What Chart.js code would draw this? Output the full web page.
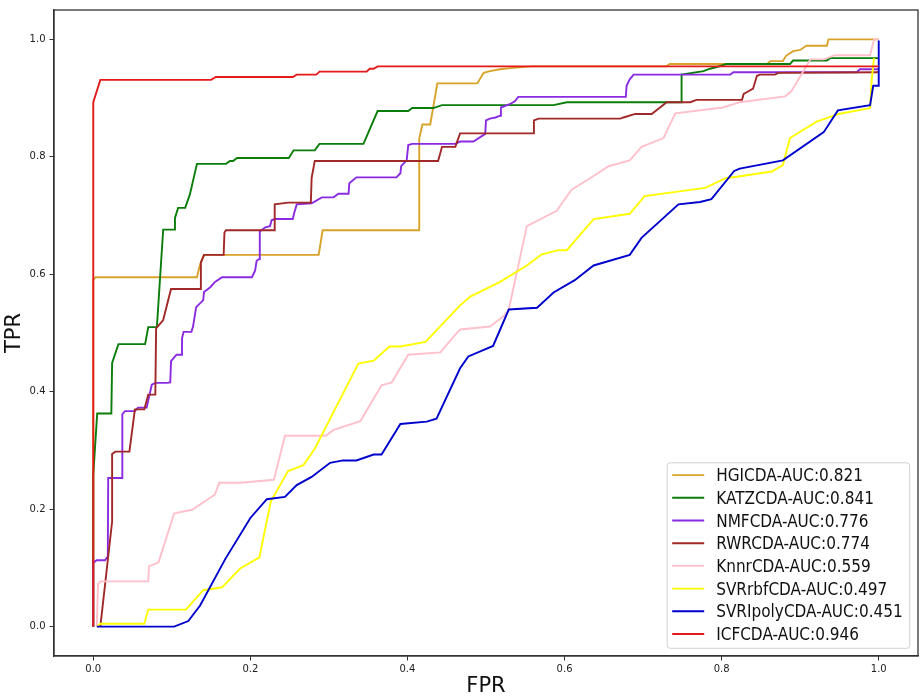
<!DOCTYPE html>
<html>
<head>
<meta charset="utf-8">
<script src="https://cdn.jsdelivr.net/npm/chart.js@4.4.1/dist/chart.umd.min.js"></script>
<style>
  html, body { margin: 0; padding: 0; background: #ffffff; }
  #wrap { width: 923px; height: 697px; }
</style>
</head>
<body>
<div id="wrap"><canvas id="c" width="923" height="697"></canvas></div>
<script>
// ---------- data ----------
const seriesLabels = [
  'HGICDA-AUC:0.821', 'KATZCDA-AUC:0.841', 'NMFCDA-AUC:0.776', 'RWRCDA-AUC:0.774',
  'KnnrCDA-AUC:0.559', 'SVRrbfCDA-AUC:0.497', 'SVRIpolyCDA-AUC:0.451', 'ICFCDA-AUC:0.946'
];
const seriesColors = ['#d8a32a', '#0a7d0a', '#8a2be2', '#a02828', '#ffc0cb', '#ffff00', '#0000cd', '#e41a1a'];

const fprHGI = [0, 0, 0.003, 0.132, 0.136, 0.141, 0.287, 0.292, 0.415, 0.415, 0.419, 0.429, 0.438, 0.489, 0.497, 0.505, 0.518, 0.531, 0.558, 0.730, 0.734, 0.858, 0.862, 0.878, 0.882, 0.891, 0.900, 0.908, 0.934, 0.936, 1.0];
const tprHGI = [0, 0.591, 0.595, 0.595, 0.617, 0.633, 0.633, 0.675, 0.675, 0.831, 0.855, 0.855, 0.925, 0.925, 0.943, 0.946, 0.949, 0.951, 0.954, 0.954, 0.958, 0.958, 0.963, 0.963, 0.972, 0.980, 0.982, 0.989, 0.989, 1.0, 1.0];

const fprKATZ = [0, 0, 0.005, 0.023, 0.024, 0.032, 0.066, 0.070, 0.081, 0.089, 0.103, 0.104, 0.108, 0.117, 0.123, 0.132, 0.169, 0.174, 0.178, 0.183, 0.249, 0.255, 0.282, 0.288, 0.344, 0.362, 0.401, 0.406, 0.433, 0.444, 0.586, 0.603, 0.749, 0.749, 0.777, 0.785, 0.794, 0.806, 0.887, 0.891, 0.934, 0.938, 0.994, 1.0];
const tprKATZ = [0, 0.258, 0.363, 0.363, 0.449, 0.481, 0.481, 0.510, 0.510, 0.676, 0.676, 0.696, 0.713, 0.713, 0.736, 0.788, 0.788, 0.793, 0.793, 0.798, 0.798, 0.811, 0.811, 0.822, 0.822, 0.878, 0.878, 0.883, 0.883, 0.888, 0.888, 0.893, 0.893, 0.940, 0.946, 0.950, 0.953, 0.958, 0.958, 0.964, 0.964, 0.968, 0.968, 0.968];

const fprNMF = [0, 0, 0.0045, 0.015, 0.0185, 0.019, 0.037, 0.037, 0.0405, 0.053, 0.057, 0.068, 0.0745, 0.079, 0.094, 0.098, 0.099, 0.106, 0.113, 0.113, 0.115, 0.125, 0.127, 0.131, 0.140, 0.141, 0.149, 0.155, 0.164, 0.202, 0.206, 0.208, 0.2115, 0.212, 0.219, 0.225, 0.227, 0.231, 0.254, 0.256, 0.259, 0.278, 0.291, 0.306, 0.312, 0.325, 0.326, 0.335, 0.386, 0.391, 0.392, 0.399, 0.401, 0.406, 0.461, 0.467, 0.484, 0.499, 0.500, 0.505, 0.512, 0.518, 0.519, 0.531, 0.537, 0.541, 0.678, 0.679, 0.683, 0.688, 0.811, 0.815, 0.972, 0.976, 1.0];
const tprNMF = [0, 0.109, 0.113, 0.113, 0.120, 0.253, 0.253, 0.362, 0.367, 0.367, 0.373, 0.373, 0.412, 0.415, 0.415, 0.416, 0.452, 0.463, 0.463, 0.491, 0.502, 0.502, 0.511, 0.544, 0.556, 0.570, 0.578, 0.587, 0.595, 0.595, 0.606, 0.623, 0.626, 0.673, 0.680, 0.682, 0.692, 0.694, 0.694, 0.705, 0.719, 0.721, 0.731, 0.731, 0.737, 0.737, 0.755, 0.765, 0.765, 0.772, 0.784, 0.794, 0.820, 0.822, 0.822, 0.826, 0.826, 0.839, 0.862, 0.865, 0.867, 0.870, 0.884, 0.890, 0.895, 0.902, 0.902, 0.921, 0.932, 0.940, 0.940, 0.944, 0.944, 0.949, 0.949];

const fprRWR = [0.009, 0.024, 0.024, 0.028, 0.046, 0.053, 0.065, 0.070, 0.079, 0.080, 0.089, 0.099, 0.136, 0.137, 0.141, 0.166, 0.167, 0.169, 0.231, 0.231, 0.248, 0.277, 0.278, 0.282, 0.439, 0.444, 0.461, 0.463, 0.467, 0.560, 0.561, 0.567, 0.671, 0.675, 0.690, 0.711, 0.730, 0.760, 0.768, 0.826, 0.828, 0.832, 0.840, 0.845, 0.849, 0.868, 0.872, 1.0];
const tprRWR = [0, 0.179, 0.294, 0.298, 0.298, 0.370, 0.370, 0.395, 0.395, 0.508, 0.522, 0.575, 0.575, 0.620, 0.633, 0.633, 0.671, 0.675, 0.675, 0.719, 0.722, 0.722, 0.764, 0.793, 0.793, 0.817, 0.817, 0.825, 0.840, 0.840, 0.862, 0.865, 0.865, 0.867, 0.873, 0.873, 0.893, 0.893, 0.897, 0.897, 0.907, 0.910, 0.916, 0.938, 0.940, 0.940, 0.943, 0.944];

const fprKNN = [0.0045, 0.006, 0.009, 0.070, 0.071, 0.083, 0.103, 0.126, 0.155, 0.159, 0.160, 0.187, 0.230, 0.244, 0.296, 0.306, 0.340, 0.367, 0.380, 0.401, 0.442, 0.452, 0.467, 0.505, 0.522, 0.529, 0.552, 0.590, 0.609, 0.633, 0.656, 0.683, 0.698, 0.726, 0.741, 0.802, 0.823, 0.881, 0.889, 0.913, 0.930, 0.944, 0.989, 0.994, 1.0];
const tprKNN = [0, 0.072, 0.077, 0.077, 0.103, 0.109, 0.193, 0.199, 0.225, 0.241, 0.245, 0.245, 0.250, 0.325, 0.325, 0.335, 0.350, 0.411, 0.416, 0.463, 0.467, 0.483, 0.506, 0.511, 0.528, 0.540, 0.682, 0.708, 0.744, 0.764, 0.784, 0.794, 0.817, 0.832, 0.874, 0.884, 0.893, 0.903, 0.912, 0.966, 0.966, 0.973, 0.973, 1.0, 1.0];

const fprRBF = [0.005, 0.009, 0.065, 0.070, 0.118, 0.140, 0.164, 0.187, 0.2115, 0.226, 0.248, 0.2675, 0.282, 0.3375, 0.357, 0.377, 0.391, 0.423, 0.467, 0.480, 0.518, 0.552, 0.571, 0.592, 0.603, 0.637, 0.683, 0.702, 0.779, 0.806, 0.819, 0.864, 0.878, 0.887, 0.921, 0.949, 0.989, 0.991, 0.994];
const tprRBF = [0, 0.005, 0.005, 0.029, 0.029, 0.062, 0.067, 0.099, 0.118, 0.213, 0.265, 0.275, 0.303, 0.448, 0.453, 0.477, 0.477, 0.485, 0.547, 0.562, 0.587, 0.615, 0.634, 0.641, 0.641, 0.694, 0.703, 0.733, 0.747, 0.764, 0.766, 0.775, 0.786, 0.832, 0.860, 0.873, 0.883, 0.931, 0.968];

const fprPOLY = [0.0045, 0.103, 0.121, 0.136, 0.168, 0.200, 0.221, 0.244, 0.259, 0.278, 0.3015, 0.318, 0.335, 0.357, 0.367, 0.391, 0.4245, 0.437, 0.467, 0.4775, 0.509, 0.529, 0.565, 0.586, 0.613, 0.637, 0.683, 0.698, 0.745, 0.7725, 0.787, 0.816, 0.823, 0.878, 0.930, 0.948, 0.989, 0.993, 1.0, 1.0];
const tprPOLY = [0, 0, 0.0095, 0.036, 0.115, 0.185, 0.217, 0.221, 0.241, 0.255, 0.279, 0.283, 0.283, 0.293, 0.293, 0.345, 0.349, 0.354, 0.440, 0.460, 0.478, 0.540, 0.543, 0.569, 0.590, 0.615, 0.633, 0.662, 0.719, 0.723, 0.728, 0.776, 0.780, 0.794, 0.842, 0.879, 0.888, 0.921, 0.921, 0.998];

const fprICF = [0, 0, 0.009, 0.150, 0.156, 0.254, 0.259, 0.284, 0.288, 0.348, 0.352, 0.357, 0.362, 1.0];
const tprICF = [0, 0.893, 0.931, 0.931, 0.936, 0.936, 0.940, 0.940, 0.945, 0.945, 0.950, 0.950, 0.954, 0.954];

const tickValues = [0.0, 0.2, 0.4, 0.6, 0.8, 1.0];
const tickLabels = ['0.0', '0.2', '0.4', '0.6', '0.8', '1.0'];
const xTitle = 'FPR';
const yTitle = 'TPR';

// ---------- build ----------
const fprs = [fprHGI, fprKATZ, fprNMF, fprRWR, fprKNN, fprRBF, fprPOLY, fprICF];
const tprs = [tprHGI, tprKATZ, tprNMF, tprRWR, tprKNN, tprRBF, tprPOLY, tprICF];
const toPoints = (xs, ys) => xs.map((x, i) => ({ x: x, y: ys[i] }));

const datasets = seriesLabels.map((lab, i) => ({
  label: lab,
  data: toPoints(fprs[i], tprs[i]),
  borderColor: seriesColors[i],
  backgroundColor: seriesColors[i],
  borderWidth: 1.9,
  pointRadius: 0,
  tension: 0,
  fill: false,
  order: seriesLabels.length - i
}));

Chart.defaults.font.family = '"DejaVu Sans", sans-serif';
Chart.defaults.color = '#222';

const frame = {
  id: 'frame',
  afterDatasetsDraw(chart) {
    const { ctx, chartArea: a } = chart;
    ctx.save();
    ctx.strokeStyle = '#333';
    ctx.lineWidth = 1.3;
    ctx.strokeRect(a.left, a.top, a.right - a.left, a.bottom - a.top);
    ctx.restore();
  }
};

const boxLegend = {
  id: 'boxLegend',
  afterDraw(chart) {
    const { ctx, chartArea: a } = chart;
    const fs = 17, rowH = 22.7, sx = 0.9;
    const ds = chart.data.datasets;
    ctx.save();
    ctx.font = fs + 'px "DejaVu Sans"';
    const maxW = Math.max(...ds.map(d => ctx.measureText(d.label).width)) * sx;
    const padL = 5, handle = 32, gap = 12, padR = 7, padT = 12.3, padB = 14.3;
    const w = padL + handle + gap + maxW + padR;
    const h = padT + rowH * (ds.length - 1) + padB;
    const x0 = a.right - 8.3 - w;
    const y0 = a.bottom - 7.7 - h;
    const r = 3;
    ctx.beginPath();
    ctx.moveTo(x0 + r, y0);
    ctx.lineTo(x0 + w - r, y0);
    ctx.quadraticCurveTo(x0 + w, y0, x0 + w, y0 + r);
    ctx.lineTo(x0 + w, y0 + h - r);
    ctx.quadraticCurveTo(x0 + w, y0 + h, x0 + w - r, y0 + h);
    ctx.lineTo(x0 + r, y0 + h);
    ctx.quadraticCurveTo(x0, y0 + h, x0, y0 + h - r);
    ctx.lineTo(x0, y0 + r);
    ctx.quadraticCurveTo(x0, y0, x0 + r, y0);
    ctx.closePath();
    ctx.fillStyle = 'rgba(255,255,255,0.85)';
    ctx.fill();
    ctx.strokeStyle = '#d0d0d0';
    ctx.lineWidth = 1;
    ctx.stroke();
    ds.forEach((d, i) => {
      const cy = y0 + padT + rowH * i;
      ctx.strokeStyle = d.borderColor;
      ctx.lineWidth = 1.9;
      ctx.beginPath();
      ctx.moveTo(x0 + padL, cy);
      ctx.lineTo(x0 + padL + handle, cy);
      ctx.stroke();
      ctx.fillStyle = '#111';
      ctx.textBaseline = 'alphabetic';
      ctx.save();
      ctx.translate(x0 + padL + handle + gap, cy + fs * 0.729 / 2);
      ctx.scale(sx, 1);
      ctx.fillText(d.label, 0, 0);
      ctx.restore();
    });
    ctx.restore();
  }
};

const setTicks = (scale) => { scale.ticks = tickValues.map(v => ({ value: v })); };

new Chart(document.getElementById('c'), {
  type: 'line',
  data: { datasets: datasets },
  plugins: [frame, boxLegend],
  options: {
    responsive: false,
    animation: false,
    devicePixelRatio: 1,
    layout: { padding: { top: 3, right: 5, left: 0, bottom: 0 } },
    plugins: { legend: { display: false }, tooltip: { enabled: false } },
    scales: {
      x: {
        type: 'linear',
        min: -0.05, max: 1.05,
        afterBuildTicks: setTicks,
        afterFit: (s) => { s.height = 41; },
        grid: { display: true, drawOnChartArea: false, drawTicks: true, tickLength: 4.5, color: '#333', lineWidth: 1 },
        border: { display: true, color: '#333', width: 1.3 },
        ticks: { autoSkip: false, maxRotation: 0, padding: 3, font: { size: 10 }, color: '#222',
                 callback: (v, i) => tickLabels[i] },
        title: { display: true, text: xTitle, font: { size: 21, lineHeight: 1.0 }, color: '#111', padding: { top: 0, bottom: 0 } }
      },
      y: {
        type: 'linear',
        min: -0.05, max: 1.05,
        afterBuildTicks: setTicks,
        afterFit: (s) => { s.width = 54; },
        grid: { display: true, drawOnChartArea: false, drawTicks: true, tickLength: 4.5, color: '#333', lineWidth: 1 },
        border: { display: true, color: '#333', width: 1.3 },
        ticks: { autoSkip: false, padding: 4, font: { size: 10 }, color: '#222',
                 callback: (v, i) => tickLabels[i] },
        title: { display: true, text: yTitle, font: { size: 21, lineHeight: 1.2 }, color: '#111', padding: { top: 1.5, bottom: 0 } }
      }
    }
  }
});
</script>
</body>
</html>
